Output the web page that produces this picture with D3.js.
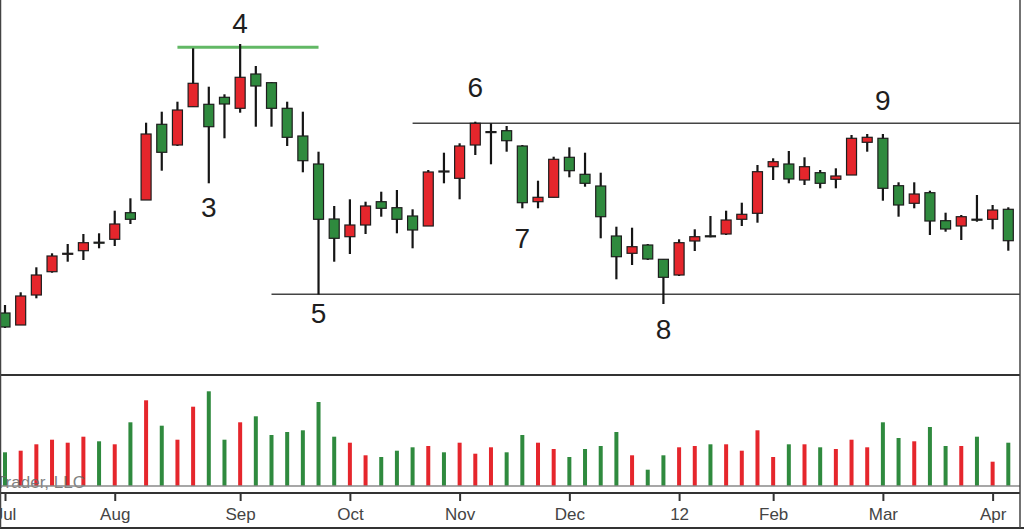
<!DOCTYPE html>
<html>
<head>
<meta charset="utf-8">
<script src="https://cdn.jsdelivr.net/npm/d3@7/dist/d3.min.js"></script>
<style>
  html, body { margin: 0; padding: 0; background: #fff; }
  svg { display: block; font-family: "Liberation Sans", Arial, sans-serif; }
</style>
</head>
<body>
<svg id="chart" width="1024" height="530"></svg>
<script>
// ---------------- DATA ----------------
const opens  = [22.70,21.50,24.50,26.83,28.65,28.93,29.78,30.07,32.73,34.00,
                41.57,39.50,43.33,43.57,44.27,43.17,46.60,45.73,43.17,40.40,
                37.60,32.10,30.33,31.50,33.83,33.23,32.40,31.40,36.90,36.17,
                39.50,40.82,40.93,39.40,33.83,34.27,38.27,36.57,35.40,30.40,
                28.67,29.50,28.07,26.50,29.90,30.42,30.60,32.07,32.67,37.33,
                37.60,36.00,36.73,36.07,36.50,39.77,40.17,35.43,33.67,34.73,
                31.93,31.40,32.08,32.07,33.07];
const highs  = [23.50,24.77,27.27,28.67,29.60,30.60,30.67,32.93,34.17,41.73,
                42.83,43.83,49.17,45.33,44.57,49.60,47.40,45.80,43.83,42.83,
                38.83,33.40,34.07,33.83,34.83,35.00,33.07,37.00,38.73,39.67,
                41.83,41.67,41.40,39.50,35.93,38.33,39.27,38.73,36.73,31.33,
                31.23,29.60,28.10,30.07,31.07,32.40,32.93,33.73,37.50,38.17,
                38.90,38.27,37.00,37.17,40.50,40.60,40.60,35.77,35.77,34.93,
                32.73,32.50,34.50,33.50,33.27];
const lows   = [21.20,21.50,24.17,26.73,27.83,28.00,29.17,29.40,31.60,34.00,
                36.93,39.40,43.33,35.67,40.17,42.73,41.33,41.33,39.40,36.77,
                24.55,27.83,28.60,30.60,32.33,30.67,29.17,31.40,35.67,34.07,
                38.50,37.57,38.83,33.17,33.17,34.27,36.27,35.33,30.17,26.07,
                27.50,28.00,23.60,26.40,28.90,30.27,30.50,31.40,31.73,36.00,
                35.67,35.50,35.17,35.17,36.50,38.83,33.93,32.33,33.17,30.50,
                30.83,30.00,31.83,31.07,28.93];
const closes = [21.30,24.40,26.50,28.40,28.67,29.73,29.76,31.60,32.07,40.60,
                38.77,43.00,45.67,41.33,43.60,46.27,45.40,43.17,40.27,37.93,
                32.07,30.17,31.50,33.40,33.17,32.07,31.00,36.80,36.88,39.40,
                41.67,40.84,39.93,33.73,34.27,38.07,36.93,35.67,32.33,28.33,
                29.33,28.10,26.27,29.73,30.33,30.40,32.00,32.57,36.83,37.83,
                36.10,37.33,35.67,36.40,40.17,40.27,35.17,33.50,34.60,31.90,
                31.10,32.33,32.06,33.00,29.93];
const volumes = [337,353,417,463,433,493,447,417,637,857,
                 603,463,793,947,463,637,697,510,540,557,
                 840,493,433,307,290,353,387,400,337,433,
                 323,387,337,510,433,370,290,370,400,540,
                 307,163,307,387,400,417,417,353,557,290,
                 417,417,387,370,463,387,637,480,447,590,
                 400,400,493,243,433];
const tickIndex  = [0, 7, 15, 22, 29, 36, 43, 49, 56, 63];
const tickLabels = ["Jul","Aug","Sep","Oct","Nov","Dec","12","Feb","Mar","Apr"];
const annoLabels = ["3","4","5","6","7","8","9"];
const annoIndex  = [13, 15, 20, 30, 33, 42, 56];
const annoPrice  = [32.3, 50.7, 21.7, 44.3, 29.2, 20.1, 43.0];
// level lines: [price, startIndex, endIndex]
const greenLevel  = [49.27, 11, 20];
const upperLevel  = [41.67, 26, 64.75];
const lowerLevel  = [24.57, 17, 64.75];

// ---------------- LAYOUT ----------------
const W = 1024, H = 530;
const panelRight = 1020;
const volTop = 375, volBase = 486, axisY = 493;
const RED = "#e5262c", GREEN = "#2f8a3e";

const svg = d3.select("#chart");
const n = closes.length;
const x = d3.scalePoint().domain(d3.range(n)).range([5, 1008.3]);
const xLin = d3.scaleLinear().domain([0, n - 1]).range([5, 1008.3]);
const y = d3.scaleLinear().domain([20, 54]).range([340, 0]);
const vy = d3.scaleLinear().domain([0, 1110]).range([volBase, volTop]);

svg.append("rect").attr("width", W).attr("height", H).attr("fill", "#fff");

// clip for price panel
svg.append("clipPath").attr("id", "pclip").append("rect")
  .attr("x", 1).attr("y", 0).attr("width", panelRight - 1).attr("height", volTop - 1);
svg.append("clipPath").attr("id", "vclip").append("rect")
  .attr("x", 1).attr("y", volTop).attr("width", panelRight - 1).attr("height", volBase - volTop + 4);

const price = svg.append("g").attr("clip-path", "url(#pclip)");

// level lines
price.append("line")
  .attr("x1", xLin(greenLevel[1])).attr("x2", xLin(greenLevel[2]))
  .attr("y1", y(greenLevel[0])).attr("y2", y(greenLevel[0]))
  .attr("stroke", "#62b865").attr("stroke-width", 3);
[upperLevel, lowerLevel].forEach(l => {
  price.append("line")
    .attr("x1", xLin(l[1])).attr("x2", xLin(l[2]))
    .attr("y1", y(l[0])).attr("y2", y(l[0]))
    .attr("stroke", "#444").attr("stroke-width", 1.5);
});

// candles
const idx = d3.range(n);
const colorOf = i => closes[i] >= opens[i] ? RED : GREEN;
price.selectAll("line.wick").data(idx).join("line")
  .attr("class", "wick")
  .attr("x1", i => x(i)).attr("x2", i => x(i))
  .attr("y1", i => y(highs[i])).attr("y2", i => y(lows[i]))
  .attr("stroke", "#151515").attr("stroke-width", 2.2);
price.selectAll("rect.body").data(idx).join("rect")
  .attr("class", "body")
  .attr("x", i => x(i) - 5).attr("width", 10)
  .attr("y", i => y(Math.max(opens[i], closes[i])))
  .attr("height", i => Math.max(Math.abs(y(opens[i]) - y(closes[i])), 1))
  .attr("fill", colorOf)
  .attr("stroke", "#1d1d1d").attr("stroke-width", 1.2);

// annotations
svg.selectAll("text.anno").data(annoLabels).join("text")
  .attr("class", "anno")
  .attr("x", (d, k) => x(annoIndex[k]))
  .attr("y", (d, k) => y(annoPrice[k]))
  .attr("text-anchor", "middle")
  .attr("font-size", 28)
  .attr("fill", "#1e1e1e")
  .text(d => d);

// volume panel
const vol = svg.append("g").attr("clip-path", "url(#vclip)");
vol.selectAll("rect.vol").data(idx).join("rect")
  .attr("class", "vol")
  .attr("x", i => x(i) - 2).attr("width", 4)
  .attr("y", i => vy(volumes[i]))
  .attr("height", i => volBase - vy(volumes[i]))
  .attr("fill", colorOf);

// watermark
svg.append("text")
  .attr("x", 85).attr("y", 488)
  .attr("text-anchor", "end")
  .attr("font-size", 17)
  .attr("fill", "#6a6a6a")
  .attr("opacity", 0.85)
  .text("Trader, LLC");

// baseline & frame lines
svg.append("line").attr("x1", 0).attr("x2", panelRight).attr("y1", volBase).attr("y2", volBase)
  .attr("stroke", "#8a8a8a").attr("stroke-width", 1.5);
svg.append("line").attr("x1", 0).attr("x2", panelRight).attr("y1", volTop).attr("y2", volTop)
  .attr("stroke", "#333").attr("stroke-width", 2);
svg.append("line").attr("x1", 0).attr("x2", panelRight).attr("y1", axisY).attr("y2", axisY)
  .attr("stroke", "#333").attr("stroke-width", 2);
svg.append("line").attr("x1", 0).attr("x2", W).attr("y1", 528).attr("y2", 528)
  .attr("stroke", "#333").attr("stroke-width", 2);
svg.append("line").attr("x1", 0.5).attr("x2", 0.5).attr("y1", 0).attr("y2", 528)
  .attr("stroke", "#444").attr("stroke-width", 1.5);
svg.append("line").attr("x1", panelRight).attr("x2", panelRight).attr("y1", 0).attr("y2", 528)
  .attr("stroke", "#444").attr("stroke-width", 1.5);

// x axis
const axis = d3.axisBottom(x)
  .tickValues(tickIndex)
  .tickFormat((d, k) => tickLabels[k])
  .tickSize(8).tickPadding(7);
const ax = svg.append("g").attr("transform", `translate(0,${axisY})`).call(axis);
ax.select(".domain").remove();
ax.selectAll(".tick line").attr("stroke", "#333").attr("stroke-width", 2);
ax.selectAll(".tick text")
  .attr("font-size", 17)
  .attr("font-family", "Liberation Sans, Arial, sans-serif")
  .attr("fill", "#444");
</script>
</body>
</html>
